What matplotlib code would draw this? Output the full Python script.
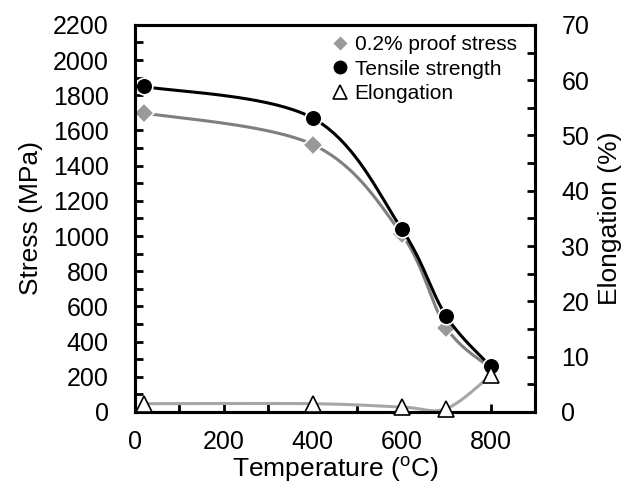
import numpy as np
import matplotlib
matplotlib.use("Agg")
import matplotlib.pyplot as plt
from matplotlib.lines import Line2D
from matplotlib.ticker import MultipleLocator

plt.rcParams['font.family'] = ['Liberation Sans', 'DejaVu Sans']
plt.rcParams['mathtext.fontset'] = 'custom'
plt.rcParams['mathtext.rm'] = 'Liberation Sans'

# data
temperature = [20, 400, 600, 700, 800]
proof_stress = [1700, 1520, 1010, 480, 250]
tensile_strength = [1850, 1670, 1040, 545, 260]
elongation = [1.5, 1.5, 0.9, 0.6, 6.6]


def smooth(xs, ys, n=40):
    # bezier curve through the points, like the spreadsheet "smoothed line"
    p = np.column_stack([xs, ys]).astype(float)
    p = np.vstack([p[0], p, p[-1]])
    out = []
    for i in range(1, len(p) - 2):
        p0, p1, p2, p3 = p[i - 1], p[i], p[i + 1], p[i + 2]
        c1 = p1 + (p2 - p0) / 6
        c2 = p2 - (p3 - p1) / 6
        t = np.linspace(0, 1, n)[:, None]
        seg = ((1 - t) ** 3) * p1 + 3 * ((1 - t) ** 2) * t * c1 + 3 * (1 - t) * t ** 2 * c2 + t ** 3 * p2
        out.append(seg)
    out = np.vstack(out)
    return out[:, 0], out[:, 1]


fig = plt.figure(figsize=(6.35, 4.9), dpi=100)
ax = fig.add_axes([0.2126, 0.1592, 0.63, 0.79])
ax2 = ax.twinx()

grey = '#7f7f7f'
light = '#a6a6a6'

sx, sy = smooth(temperature, proof_stress)
ax.plot(sx, sy, color=grey, lw=2.2, zorder=2)
ax.plot(temperature, proof_stress, ls='none', marker='D', ms=10, color='#999999',
        mec='white', mew=1.2, clip_on=False, zorder=3)

sx, sy = smooth(temperature, tensile_strength)
ax.plot(sx, sy, color='black', lw=2.2, zorder=4)
ax.plot(temperature, tensile_strength, ls='none', marker='o', ms=12, color='black',
        mec='white', mew=1.2, clip_on=False, zorder=5)

sx, sy = smooth(temperature, elongation)
ax2.plot(sx, sy, color=light, lw=2.2, zorder=2)
ax2.plot(temperature, elongation, ls='none', marker='^', ms=12, mfc='white',
         mec='black', mew=1.2, clip_on=False, zorder=3)

ax.set_xlim(0, 900)
ax.set_ylim(0, 2200)
ax2.set_ylim(0, 70)

ax.set_xticks(range(0, 801, 200))
ax.xaxis.set_minor_locator(MultipleLocator(100))
ax.yaxis.set_major_locator(MultipleLocator(200))
ax.yaxis.set_minor_locator(MultipleLocator(100))
ax2.yaxis.set_major_locator(MultipleLocator(10))
ax2.yaxis.set_minor_locator(MultipleLocator(5))

ax.tick_params(axis='x', which='both', direction='in', length=6, width=2, pad=13, labelsize=18)
ax.tick_params(axis='y', which='both', direction='in', length=6, width=2, pad=19, labelsize=18)
ax2.tick_params(axis='y', which='both', direction='in', length=6, width=2, pad=19, labelsize=18)
ax.tick_params(which='minor', labelbottom=False)

for a in (ax, ax2):
    for s in a.spines.values():
        s.set_linewidth(2.2)

ax.set_xlabel('Temperature ($^{\\rm o}$C)', fontsize=19, labelpad=0)
ax.set_ylabel('Stress (MPa)', fontsize=19, labelpad=7)
ax2.set_ylabel('Elongation (%)', fontsize=19, labelpad=6)

handles = [
    Line2D([], [], ls='none', marker='D', ms=8, color='#999999', mec='white'),
    Line2D([], [], ls='none', marker='o', ms=11, color='black', mec='white'),
    Line2D([], [], ls='none', marker='^', ms=10, mfc='white', mec='black', mew=1.2),
]
ax2.legend(handles, ['0.2% proof stress', 'Tensile strength', 'Elongation'],
           loc='upper right', bbox_to_anchor=(0.985, 1.005), frameon=False, fontsize=15,
           handletextpad=0.2, labelspacing=0.25, borderaxespad=0.2, handlelength=1.0)

fig.savefig('out.png', dpi=100)
